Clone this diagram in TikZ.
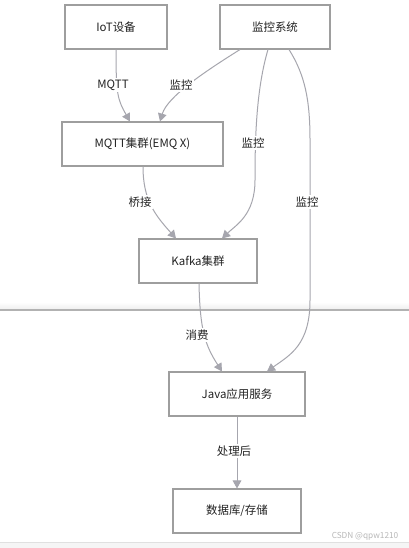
\documentclass[tikz,border=0pt]{standalone}
\usepackage{fontspec}
\setmainfont{Noto Sans CJK SC}
\usetikzlibrary{arrows.meta,calc}
\definecolor{boxline}{HTML}{9E9E9E}
\definecolor{edgeline}{HTML}{A6A6AE}
\definecolor{txt}{HTML}{222222}
\tikzset{
  box/.style={draw=boxline, line width=0.8pt, fill=white, minimum height=33pt, inner sep=0pt, font=\fontsize{8.6pt}{10pt}\selectfont, text=txt},
  edge/.style={draw=edgeline, line width=0.75pt, -{Triangle[length=6pt,width=6.5pt]}},
  lbl/.style={fill=white, inner sep=1pt, font=\fontsize{8.6pt}{10pt}\selectfont, text=txt},
}
\begin{document}
\begin{tikzpicture}[x=0.75pt,y=-0.75pt]
\useasboundingbox (0,0) rectangle (409,548);
\fill[white] (0,0) rectangle (409,548);
% page seam
\shade[top color=white, bottom color=black!6] (0,302) rectangle (409,309);
\fill[black!30] (0,309) rectangle (409,311);
% bottom strip
\fill[black!4] (0,542) rectangle (409,548);
\draw[black!12, line width=0.6pt] (0,542) -- (409,542);
\node[font=\fontsize{6.2pt}{7pt}\selectfont, text=black!28] (wm) at (365,536) {CSDN @qpw1210};

\node[box, minimum width=76.5pt] (iot) at (116,27) {IoT设备};
\node[box, minimum width=82.5pt] (mon) at (275,27) {监控系统};
\node[box, minimum width=120.75pt] (mqtt) at (142.5,144) {MQTT集群(EMQ X)};
\node[box, minimum width=88.5pt] (kafka) at (198,261) {Kafka集群};
\node[box, minimum width=102pt] (java) at (237,394) {Java应用服务};
\node[box, minimum width=96pt] (db) at (237,511) {数据库/存储};

% IoT -> MQTT
\draw[edge] (iot.south) .. controls ($(iot.south)+(0,45)$) and ($(mqtt.north)+(-25,-22)$) .. ($(mqtt.north)+(-12.5,0)$)
  node[lbl, at={(113,85)}] {MQTT};
% monitor -> MQTT
\draw[edge] ($(mon.south)+(-35,0)$) .. controls ($(mon.south)+(-70,22)$) and ($(mqtt.north)+(25,-25)$) .. ($(mqtt.north)+(17.5,0)$)
  node[lbl, at={(181,85)}] {监控};
% monitor -> Kafka
\draw[edge] ($(mon.south)+(-7,0)$) .. controls (256,90) and (255,140) .. (255,180)
  .. controls (255,215) and (236,225) .. ($(kafka.north)+(24,0)$)
  node[lbl, at={(253,143)}] {监控};
% monitor -> Java
\draw[edge] ($(mon.south)+(14,0)$) .. controls (305,75) and (310,100) .. (310,140) -- (310,300)
  .. controls (310,345) and (290,355) .. ($(java.north)+(30,0)$)
  node[lbl, at={(307,202)}] {监控};
% MQTT -> Kafka
\draw[edge] ($(mqtt.south)+(0.5,0)$) .. controls (143,200) and (155,215) .. ($(kafka.north)+(-22,0)$)
  node[lbl, at={(140,202)}] {桥接};
% Kafka -> Java
\draw[edge] ($(kafka.south)+(1,0)$) .. controls (200,330) and (205,345) .. ($(java.north)+(-15,0)$)
  node[lbl, at={(197,335)}] {消费};
% Java -> DB
\draw[edge] (java.south) -- (db.north)
  node[lbl, at={(234,451)}] {处理后};
\end{tikzpicture}
\end{document}
